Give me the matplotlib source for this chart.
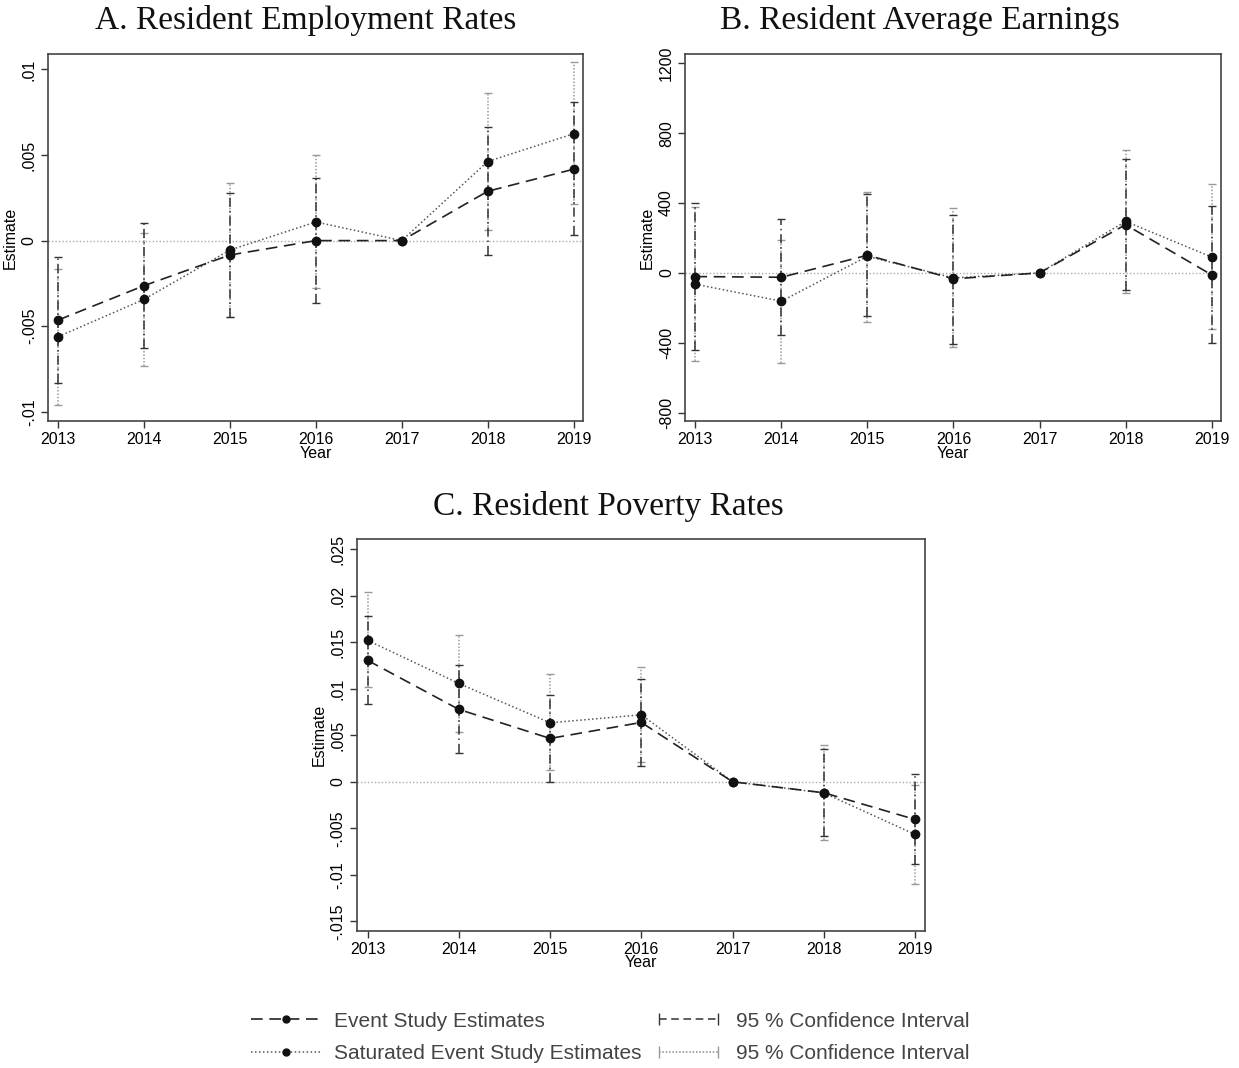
import matplotlib
matplotlib.use("Agg")
import matplotlib.pyplot as plt
from matplotlib.lines import Line2D
from matplotlib.legend_handler import HandlerLine2D
import numpy as np

plt.rcParams['font.family'] = ['Liberation Sans', 'DejaVu Sans']

years = [2013, 2014, 2015, 2016, 2017, 2018, 2019]

# Panel A: employment rates
emp_es = [-0.00464, -0.00263, -0.00084, 0.0, 0.0, 0.00288, 0.00417]
emp_es_lo = [-0.0083, -0.00626, -0.00448, -0.00365, 0.0, -0.00084, 0.00033]
emp_es_hi = [-0.00097, 0.00101, 0.00277, 0.00365, 0.0, 0.00661, 0.00807]
emp_sat = [-0.00561, -0.00343, -0.00055, 0.00109, 0.0, 0.00462, 0.00624]
emp_sat_lo = [-0.0096, -0.00733, -0.00445, -0.00279, 0.0, 0.00062, 0.00212]
emp_sat_hi = [-0.00168, 0.00047, 0.00335, 0.00501, 0.0, 0.00865, 0.01041]

# Panel B: average earnings
earn_es = [-21, -25, 101, -34, 0, 276, -11]
earn_es_lo = [-442, -358, -244, -408, 0, -99, -400]
earn_es_hi = [400, 310, 450, 331, 0, 653, 381]
earn_sat = [-65, -162, 95, -29, 0, 295, 91]
earn_sat_lo = [-505, -514, -280, -423, 0, -115, -324]
earn_sat_hi = [375, 190, 461, 373, 0, 705, 507]

# Panel C: poverty rates
pov_es = [0.01305, 0.00778, 0.00466, 0.00638, 0.0, -0.00118, -0.00405]
pov_es_lo = [0.00832, 0.00312, 0.0, 0.00172, 0.0, -0.00588, -0.00882]
pov_es_hi = [0.01781, 0.01251, 0.00935, 0.011, 0.0, 0.00348, 0.00079]
pov_sat = [0.0152, 0.01057, 0.00634, 0.0072, 0.0, -0.0012, -0.00566]
pov_sat_lo = [0.0102, 0.0054, 0.00125, 0.0021, 0.0, -0.00624, -0.01097]
pov_sat_hi = [0.0204, 0.01573, 0.01154, 0.0123, 0.0, 0.0039, -0.00035]

emp_ticks = [-0.01, -0.005, 0, 0.005, 0.01]
emp_labels = ['-.01', '-.005', '0', '.005', '.01']
earn_ticks = [-800, -400, 0, 400, 800, 1200]
earn_labels = ['-800', '-400', '0', '400', '800', '1200']
pov_ticks = [-0.015, -0.01, -0.005, 0, 0.005, 0.01, 0.015, 0.02, 0.025]
pov_labels = ['-.015', '-.01', '-.005', '0', '.005', '.01', '.015', '.02', '.025']

ES_LS = (0, (7, 4))
SAT_LS = (0, (1, 1.6))
CI_ES_LS = (0, (6, 2.5, 1, 2.5))
CI_SAT_LS = (0, (1, 1.2))
SERIF = ['Liberation Serif', 'DejaVu Serif']


def draw_ci(ax, x, est, lo, hi, color, ls):
    est = np.array(est, dtype=float)
    lo = np.array(lo, dtype=float)
    hi = np.array(hi, dtype=float)
    keep = hi > lo
    x = np.array(x)[keep]
    err = [est[keep] - lo[keep], hi[keep] - est[keep]]
    eb = ax.errorbar(x, est[keep], yerr=err, fmt='none', ecolor=color,
                     elinewidth=1.1, capsize=3, capthick=1.0, zorder=2)
    for lc in eb[2]:
        lc.set_linestyle(ls)


def draw_panel(ax, es, es_lo, es_hi, sat, sat_lo, sat_hi, ticks, labels, ylim):
    ax.axhline(0, color='#aaaaaa', lw=1.0, ls=(0, (1, 1.5)), zorder=1)
    draw_ci(ax, years, sat, sat_lo, sat_hi, '#999999', CI_SAT_LS)
    draw_ci(ax, years, es, es_lo, es_hi, '#333333', CI_ES_LS)
    ax.plot(years, sat, color='#555555', ls=SAT_LS, lw=1.1, marker='o',
            ms=6, mfc='#111111', mec='#111111', zorder=3)
    ax.plot(years, es, color='#222222', ls=ES_LS, lw=1.2, marker='o',
            ms=6, mfc='#111111', mec='#111111', zorder=4)
    ax.set_xlim(2012.88, 2019.11)
    ax.set_ylim(*ylim)
    ax.set_xticks(years)
    ax.set_xticklabels([str(y) for y in years], fontsize=11.5)
    ax.set_yticks(ticks)
    ax.set_yticklabels(labels, fontsize=11.5, rotation=90, va='center')
    ax.tick_params(length=5, width=1, color='#333333', pad=3)
    ax.set_xlabel('Year', fontsize=11.5, labelpad=-1)
    ax.set_ylabel('Estimate', fontsize=11.5, labelpad=3)
    for s in ax.spines.values():
        s.set_color('#444444')
        s.set_linewidth(1.2)


fig = plt.figure(figsize=(12.39, 10.68), dpi=100)
ax_a = fig.add_axes([0.0387, 0.6058, 0.4318, 0.3436])
ax_b = fig.add_axes([0.5529, 0.6058, 0.4326, 0.3436])
ax_c = fig.add_axes([0.2879, 0.1286, 0.4587, 0.3665])

draw_panel(ax_a, emp_es, emp_es_lo, emp_es_hi, emp_sat, emp_sat_lo, emp_sat_hi,
           emp_ticks, emp_labels, (-0.01054, 0.0109))
draw_panel(ax_b, earn_es, earn_es_lo, earn_es_hi, earn_sat, earn_sat_lo, earn_sat_hi,
           earn_ticks, earn_labels, (-848, 1253))
draw_panel(ax_c, pov_es, pov_es_lo, pov_es_hi, pov_sat, pov_sat_lo, pov_sat_hi,
           pov_ticks, pov_labels, (-0.01601, 0.02608))

fig.text(306 / 1239, 1 - 21 / 1068, 'A. Resident Employment Rates', fontsize=24,
         family=SERIF, ha='center', va='center', color='#111111')
fig.text(920 / 1239, 1 - 21 / 1068, 'B. Resident Average Earnings', fontsize=24,
         family=SERIF, ha='center', va='center', color='#111111')
fig.text(608 / 1239, 1 - 507 / 1068, 'C. Resident Poverty Rates', fontsize=24,
         family=SERIF, ha='center', va='center', color='#111111')

# legend
h_es = Line2D([], [], color='#222222', ls=ES_LS, lw=1.2, marker='o', ms=5, mfc='#111111', mec='#111111')
h_sat = Line2D([], [], color='#555555', ls=SAT_LS, lw=1.1, marker='o', ms=5, mfc='#111111', mec='#111111')
h_ci = Line2D([], [], color='#333333', ls=(0, (5, 3)), lw=1.1, marker='|', ms=8)
h_ci2 = Line2D([], [], color='#888888', ls=CI_SAT_LS, lw=1.1, marker='|', ms=8, mec='#999999')
leg = fig.legend([h_es, h_sat, h_ci, h_ci2],
                 ['Event Study Estimates', 'Saturated Event Study Estimates',
                  '95 % Confidence Interval', '95 % Confidence Interval'],
                 ncol=2, loc='center', bbox_to_anchor=(0.4925, 0.0285),
                 frameon=False, fontsize=15, handlelength=3.4, columnspacing=0.55,
                 labelspacing=0.65, handletextpad=0.6,
                 handler_map={h_ci: HandlerLine2D(numpoints=2),
                              h_ci2: HandlerLine2D(numpoints=2)})
for t in leg.get_texts():
    t.set_color('#444444')

fig.savefig('out.png', dpi=100)
